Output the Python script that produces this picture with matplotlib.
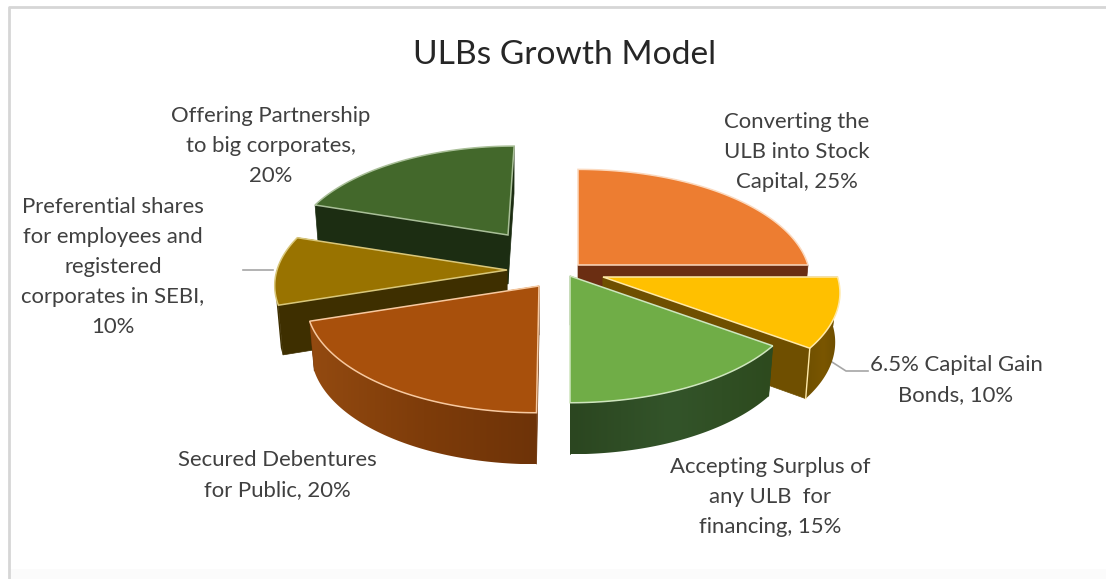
import numpy as np
import matplotlib
matplotlib.use("Agg")
import matplotlib.pyplot as plt
from matplotlib.colors import to_rgb
from matplotlib.patches import Polygon

# ---- data ----
title = "ULBs Growth Model"
categories = ["Converting the\nULB into Stock\nCapital", "6.5% Capital Gain\nBonds",
              "Accepting Surplus of\nany ULB  for\nfinancing", "Secured Debentures\nfor Public",
              "Preferential shares\nfor employees and\nregistered\ncorporates in SEBI",
              "Offering Partnership\nto big corporates"]
values = [25, 10, 15, 20, 10, 20]
value_breaks = [" ", " ", " ", " ", "\n", "\n"]

# ---- style ----
top_colors = ["#ED7D31", "#FFC000", "#70AD47", "#A8500C", "#997300", "#43682B"]
edge_colors = ["#FBD9BE", "#FFE9A8", "#CFE6BE", "#F7C9A0", "#D9C77A", "#A9BF98"]
face_colors = ["#6B2E12", "#6F4F00", "#2C4A1E", "#6B3208", "#3E2F00", "#1C2D12"]
side_from = ["#6B2E12", "#6B4C00", "#2D4A1E", "#6E3308", "#3E2F00", "#1C2D12"]
side_mid = ["#6B2E12", "#7A5600", "#33542A", "#7E3C0A", "#3E2F00", "#1C2D12"]
side_to = ["#6B2E12", "#6F5000", "#2B4620", "#934A10", "#3E2F00", "#1C2D12"]
apex_x = [578, 603, 570, 539, 507, 508]
apex_y = [265, 277, 276, 286, 270, 235]
scale = [1.0, 1.02, 1.0, 1.0, 1.0, 0.93]
lean = [0.0, 0.0, 0.0, -0.02, 0.0, -0.069]
draw_order = [5, 0, 4, 1, 3, 2]
RX, RY, K, DEPTH = 230.0, 109.0, 0.14, 49.0

label_x = [797, 956, 770, 277, 113, 271]
label_y = [152, 380, 497, 475, 267, 146]
title_xy = (565, 55)

plt.rcParams["font.family"] = ["Lato", "DejaVu Sans"]
fig = plt.figure(figsize=(11.06, 5.79), dpi=100, facecolor="white")
ax = fig.add_axes([0, 0, 1, 1])
ax.axis("off")

# frame of the pasted chart
ax.plot([9, 1106], [574.5, 574.5], color="#FBFBFB", lw=9, solid_capstyle="butt", zorder=1)
ax.plot([9, 9, 1106], [579, 7, 7], color="#D6D6D6", lw=2, solid_capstyle="butt", zorder=1)


def rim(i, th):
    """Project angle (radians clockwise from 12 o'clock) to the top rim."""
    u, v = np.sin(th), -np.cos(th)
    s = 1.0 / (1.0 - K * v)
    dx = RX * scale[i] * u * s
    dy = RY * scale[i] * v * s
    return dx + lean[i] * dy, dy


def to_floor(i, dx, dy):
    return apex_x[i] + 0.98 * dx, apex_y[i] + 1.02 * dy + DEPTH


edges = np.cumsum([0] + values) / sum(values) * 2 * np.pi

for i in draw_order:
    t0, t1 = edges[i], edges[i + 1]
    # the two cut faces
    for t in (t0, t1):
        dx, dy = rim(i, t)
        fx, fy = to_floor(i, dx, dy)
        ax.fill([apex_x[i], apex_x[i] + dx, fx, apex_x[i]],
                [apex_y[i], apex_y[i] + dy, fy, apex_y[i] + DEPTH],
                color=face_colors[i], lw=0.5, zorder=2)
    # outer wall, only on the part turned to the viewer
    a = max(t0, np.pi / 2)
    b = min(t1, 1.42 * np.pi)
    if b > a:
        ts = np.linspace(a, b, 80)
        r = np.array([rim(i, t) for t in ts])
        f = np.array([to_floor(i, *p) for p in r])
        wx = np.r_[apex_x[i] + r[:, 0], f[::-1, 0]]
        wy = np.r_[apex_y[i] + r[:, 1], f[::-1, 1]]
        # horizontal gradient running left -> right across the wall
        c_left, c_right = (side_from[i], side_to[i]) if wx[0] < wx[79] else (side_to[i], side_from[i])
        stops = np.array([to_rgb(c_left), to_rgb(side_mid[i]), to_rgb(c_right)])
        g = np.linspace(0, 2, 256)
        grad = np.stack([np.interp(g, [0, 1, 2], stops[:, c]) for c in range(3)], axis=-1)[None, :, :]
        im = ax.imshow(grad, extent=(wx.min(), wx.max(), wy.max(), wy.min()), aspect="auto",
                       interpolation="bilinear", zorder=2)
        im.set_clip_path(Polygon(np.c_[wx, wy], closed=True, transform=ax.transData))
    # pale corner on the leading edge of the wall
    dx, dy = rim(i, t1)
    fx, fy = to_floor(i, dx, dy)
    if b > a and t1 < np.pi * 0.8:
        ax.plot([apex_x[i] + dx, fx], [apex_y[i] + dy, fy], color=edge_colors[i], lw=1.0, zorder=2)
    # top surface
    ts = np.linspace(t0, t1, 120)
    pts = np.array([rim(i, t) for t in ts])
    xs = np.r_[apex_x[i], apex_x[i] + pts[:, 0]]
    ys = np.r_[apex_y[i], apex_y[i] + pts[:, 1]]
    ax.fill(xs, ys, facecolor=top_colors[i], edgecolor=edge_colors[i], lw=1.1, joinstyle="miter", zorder=2)

# leader lines
ax.plot([243, 273], [270, 270], color="#A6A6A6", lw=1.2, zorder=1)
ax.plot([832, 846, 868], [362, 371, 371], color="#A6A6A6", lw=1.2, zorder=1)

ax.set_xlim(0, 1106)
ax.set_ylim(579, 0)

# texts
ax.text(*title_xy, title, fontsize=24.1, color="#262626", ha="center", va="center")
for i, name in enumerate(categories):
    ax.text(label_x[i], label_y[i], f"{name},{value_breaks[i]}{values[i]}%", fontsize=15.9, color="#404040",
            ha="center", va="center", linespacing=1.62)

fig.savefig("out.png", dpi=100, facecolor="white")
